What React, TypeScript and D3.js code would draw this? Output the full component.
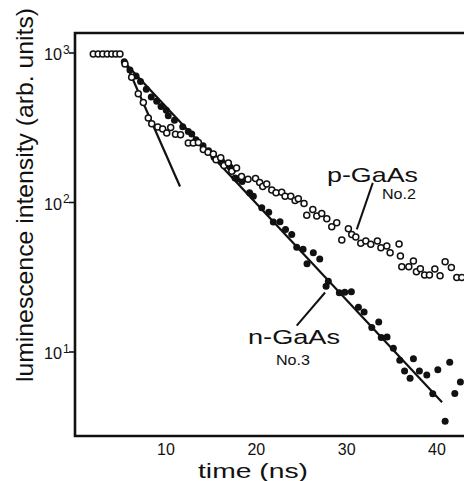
import React from "react";
import * as d3 from "d3";

// p-GaAs No.2 (open circles): [time ns, intensity]
const pGaAs: [number, number][] = [
  [1.95, 985], [2.5, 985], [3.0, 985], [3.5, 985], [4.0, 985], [4.45, 985], [4.9, 985],
  [5.46, 845], [6.2, 689], [6.93, 533], [7.49, 467], [8.04, 367], [8.42, 336], [9.08, 320],
  [9.63, 310], [10.08, 292], [10.52, 318], [11.05, 286], [11.61, 284], [12.47, 250], [13.02, 250],
  [13.58, 252], [14.13, 226], [14.65, 217], [15.24, 211], [15.54, 193], [16.06, 199], [16.42, 177],
  [16.9, 184], [17.28, 162], [17.81, 170], [18.36, 149], [19.08, 143], [19.91, 145], [20.37, 136],
  [20.71, 128], [21.15, 133], [21.71, 121], [22.18, 116], [22.81, 117], [23.18, 110], [23.81, 110],
  [24.29, 103], [24.65, 106], [25.28, 98.5], [25.58, 82.2], [26.25, 89.8], [26.69, 81.1], [27.24, 84.5],
  [27.8, 77.8], [28.35, 68.9], [28.9, 73.2], [29.46, 56.1], [30.19, 66.8], [30.56, 61.2], [31.01, 58.8],
  [31.56, 53.3], [32.12, 55.2], [32.67, 52.5], [33.4, 55.2], [33.79, 49.9], [34.44, 51.1], [34.81, 46.2],
  [35.8, 52.7], [35.95, 43.8], [36.1, 37.2], [36.88, 37.2], [37.39, 40.6], [37.72, 34.4], [38.16, 36.0],
  [38.63, 32.7], [39.16, 32.7], [39.76, 35.9], [40.34, 32.4], [40.9, 40.1], [41.59, 36.7], [42.19, 31.5],
  [42.75, 31.5],
];

// n-GaAs No.3 (filled circles): [time ns, intensity]
const nGaAs: [number, number][] = [
  [5.38, 875], [6.01, 771], [6.68, 703], [7.18, 644], [7.82, 573], [8.37, 507], [8.97, 475],
  [9.45, 438], [10.03, 414], [10.25, 380], [10.94, 355], [11.85, 321], [12.47, 299], [12.85, 287],
  [13.32, 263], [14.1, 240], [14.71, 222], [15.32, 201], [16.17, 188], [16.72, 179], [17.09, 173],
  [17.45, 166], [17.64, 146], [18.01, 144], [18.42, 138], [19.25, 116], [19.67, 110], [20.6, 92.2],
  [21.37, 86.1], [21.88, 74.1], [22.62, 74.3], [23.23, 66.1], [23.92, 61.2], [24.47, 50.1], [25.17, 48.6],
  [25.61, 38.9], [26.31, 46.2], [27.02, 41.9], [27.97, 29.7], [27.72, 27.5], [29.19, 24.9], [29.79, 25.1],
  [30.52, 25.3], [31.3, 19.9], [31.93, 18.5], [32.78, 14.6], [33.55, 15.9], [33.83, 12.5], [34.47, 12.6],
  [35.17, 10.6], [35.88, 8.8], [37.39, 9.0], [36.41, 7.47], [37.02, 6.67], [38.05, 7.47], [38.87, 7.03],
  [40.09, 7.61], [39.53, 5.25], [40.9, 3.44], [41.41, 8.54], [41.97, 5.27], [42.59, 6.31],
];

// fitted exponential decays (straight lines on log axis)
const nFit: [number, number][] = [[5.57, 845], [40.56, 4.62]];
const pFit: [number, number][] = [[5.68, 819], [11.55, 128]];

// label leader lines
const pLeader: [number, number][] = [[32.89, 135.3], [31.12, 66.1]];
const nLeader: [number, number][] = [[27.61, 25.0], [24.47, 15.0]];

const xTicks = [10, 20, 30, 40];
const yTicks = [10, 100, 1000];
const yTickExp = ["1", "2", "3"];

const W = 464;
const H = 481;
const INK = "#111";
const FONT = "'Liberation Sans', Arial, sans-serif";

export default function App() {
  const x = d3.scaleLinear().domain([10, 40]).range([166, 437]);
  const y = d3.scaleLog().domain([10, 1000]).range([352, 53]);
  const line = d3
    .line<[number, number]>()
    .x((d) => x(d[0]))
    .y((d) => y(d[1]));

  const left = 75;
  const top = 33;
  const bottom = 436;

  return (
    <svg
      width={W}
      height={H}
      style={{ position: "absolute", left: 0, top: 0, background: "#fff" }}
      fontFamily={FONT}
    >
      <rect x={0} y={0} width={W} height={H} fill="#fff" />
      {/* frame */}
      <path
        d={`M${W + 5},${top}H${left}V${bottom}H${W + 5}`}
        fill="none"
        stroke={INK}
        strokeWidth={2.6}
      />
      {/* y ticks */}
      {yTicks.map((v, i) => (
        <g key={v}>
          <line x1={left - 6} x2={left} y1={y(v)} y2={y(v)} stroke={INK} strokeWidth={1.6} />
          <text x={62} y={y(v) + 7} fontSize={17} textAnchor="end" fill={INK} textLength={18} lengthAdjust="spacingAndGlyphs">
            10
          </text>
          <text x={63} y={y(v) + 0.5} fontSize={12} fill={INK}>
            {yTickExp[i]}
          </text>
        </g>
      ))}
      {/* x tick labels */}
      {xTicks.map((v) => (
        <text key={v} x={x(v)} y={455} fontSize={16} textAnchor="middle" fill={INK}>
          {v}
        </text>
      ))}
      {/* axis titles */}
      <text x={198} y={477.5} fontSize={21} fill={INK} textLength={110} lengthAdjust="spacingAndGlyphs">
        time  (ns)
      </text>
      <text
        transform="translate(33,382) rotate(-90)"
        fontSize={24}
        fill={INK}
        textLength={374}
        lengthAdjust="spacingAndGlyphs"
      >
        luminescence intensity (arb. units)
      </text>

      {/* fit lines */}
      <path d={line(nFit) || ""} fill="none" stroke={INK} strokeWidth={2.2} />
      <path d={line(pFit) || ""} fill="none" stroke={INK} strokeWidth={2.2} />
      <path d={line(pLeader) || ""} fill="none" stroke={INK} strokeWidth={2} />
      <path d={line(nLeader) || ""} fill="none" stroke={INK} strokeWidth={2} />

      {/* data */}
      {nGaAs.map((d, i) => (
        <circle key={"n" + i} cx={x(d[0])} cy={y(d[1])} r={3.5} fill={INK} />
      ))}
      {pGaAs.map((d, i) => (
        <circle
          key={"p" + i}
          cx={x(d[0])}
          cy={y(d[1])}
          r={3}
          fill="#fff"
          stroke={INK}
          strokeWidth={1.5}
        />
      ))}

      {/* labels */}
      <text x={327} y={182} fontSize={21} fill={INK} textLength={91} lengthAdjust="spacingAndGlyphs">
        p-GaAs
      </text>
      <text x={382} y={199} fontSize={15} fill={INK} textLength={34} lengthAdjust="spacingAndGlyphs">
        No.2
      </text>
      <text x={248} y={344} fontSize={21} fill={INK} textLength={92} lengthAdjust="spacingAndGlyphs">
        n-GaAs
      </text>
      <text x={276} y={365} fontSize={15} fill={INK} textLength={34} lengthAdjust="spacingAndGlyphs">
        No.3
      </text>
    </svg>
  );
}
